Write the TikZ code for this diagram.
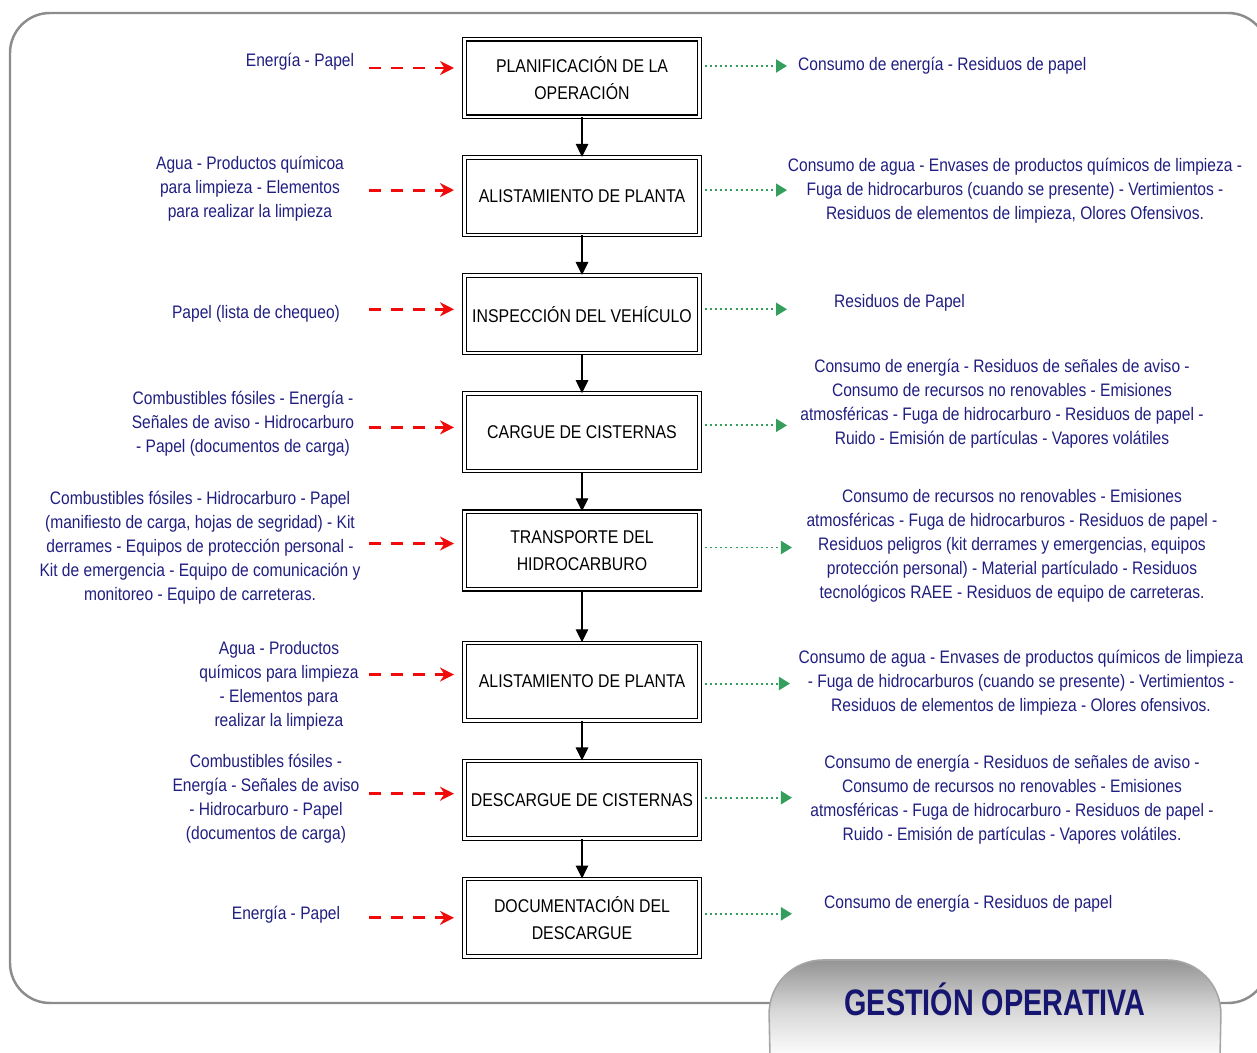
\documentclass[tikz,border=0pt]{standalone}
\usepackage{fontspec}
\setmainfont{Liberation Sans}[FakeStretch=0.86]
\newfontfamily\titlefont{Liberation Sans}[FakeStretch=0.78]
\usepackage{xcolor}
\usetikzlibrary{arrows.meta, positioning}

\definecolor{txtblue}{RGB}{32,30,128}
\definecolor{titleblue}{RGB}{22,22,112}
\definecolor{inred}{RGB}{240,10,10}
\definecolor{outgreen}{RGB}{52,158,92}
\definecolor{framegray}{RGB}{140,140,140}

\begin{document}
\begin{tikzpicture}[
    x=0.02cm, y=-0.02cm,
    node distance=0.792cm,
    stepbox/.style={draw, double, double distance=1.4pt, line width=0.6pt, minimum width=4.7cm, minimum height=1.55cm, align=center, font=\fontsize{10.5}{15.4}\selectfont},
    intext/.style={text=txtblue, align=center, font=\fontsize{10.3}{13.7}\selectfont},
    outtext/.style={text=txtblue, align=center, font=\fontsize{10.3}{13.7}\selectfont},
    flow/.style={-{Triangle[length=2.6mm, width=2.5mm]}, line width=0.8pt},
    inarr/.style={inred, line width=1.7pt, dash pattern=on 6.8pt off 5.8pt, -{Stealth[length=2.8mm, width=2.8mm]}},
    outarr/.style={outgreen, line width=1.1pt, dash pattern=on 1.1pt off 1.8pt, -{Triangle[length=2.2mm, width=2.6mm]}},
    frame/.style={framegray, line width=1.4pt, rounded corners=0.8cm},
    pill/.style={draw=black!35, line width=0.9pt, rounded corners=1.1cm, top color=black!42, bottom color=white, middle color=black!16}
]
    \useasboundingbox (0,0) rectangle (1257,1053);
    \clip (0,0) rectangle (1257,1053);

    % frame and title
    \draw[frame] (10,13) rectangle (1268,1003);
    \path[pill] (770,1058) -- (768,960) -- (1222,960) -- (1220,1058);
    \node[text=titleblue, font=\titlefont\bfseries\fontsize{21}{24}\selectfont] (title) at (995,999) {GESTIÓN OPERATIVA};

    % process steps
    \node[stepbox] (plan) at (582,78) {PLANIFICACIÓN DE LA\\OPERACIÓN};
    \node[stepbox, below=of plan] (alist) {ALISTAMIENTO DE PLANTA};
    \node[stepbox, below=of alist] (insp) {INSPECCIÓN DEL VEHÍCULO};
    \node[stepbox, below=of insp] (cargue) {CARGUE DE CISTERNAS};
    \node[stepbox, below=of cargue] (transp) {TRANSPORTE DEL\\HIDROCARBURO};
    \node[stepbox, below=1.05cm of transp] (alistb) {ALISTAMIENTO DE PLANTA};
    \node[stepbox, below=of alistb] (descargue) {DESCARGUE DE CISTERNAS};
    \node[stepbox, below=of descargue] (docu) {DOCUMENTACIÓN DEL\\DESCARGUE};

    \draw[flow] (plan) -- (alist);
    \draw[flow] (alist) -- (insp);
    \draw[flow] (insp) -- (cargue);
    \draw[flow] (cargue) -- (transp);
    \draw[flow] (transp) -- (alistb);
    \draw[flow] (alistb) -- (descargue);
    \draw[flow] (descargue) -- (docu);

    % inputs
    \node[intext] (inplan) at (300,62) {Energía - Papel};
    \node[intext] (inalist) at (250,189) {Agua - Productos químicoa\\para limpieza - Elementos\\para realizar la limpieza};
    \node[intext] (ininsp) at (256,314) {Papel (lista de chequeo)};
    \node[intext] (incargue) at (243,424) {Combustibles fósiles - Energía -\\Señales de aviso - Hidrocarburo\\- Papel (documentos de carga)};
    \node[intext] (intransp) at (200,548) {Combustibles fósiles - Hidrocarburo - Papel\\(manifiesto de carga, hojas de segridad) - Kit\\derrames - Equipos de protección personal -\\Kit de emergencia - Equipo de comunicación y\\monitoreo - Equipo de carreteras.};
    \node[intext] (inalistb) at (279,686) {Agua - Productos\\químicos para limpieza\\- Elementos para\\realizar la limpieza};
    \node[intext] (indescargue) at (266,799) {Combustibles fósiles -\\Energía - Señales de aviso\\- Hidrocarburo - Papel\\(documentos de carga)};
    \node[intext] (indocu) at (286,915) {Energía - Papel};

    \draw[inarr] ([xshift=-1.9cm, yshift=0.2cm]plan.west) -- ([xshift=-0.2cm, yshift=0.2cm]plan.west);
    \draw[inarr] ([xshift=-1.9cm, yshift=0.12cm]alist.west) -- ([xshift=-0.2cm, yshift=0.12cm]alist.west);
    \draw[inarr] ([xshift=-1.9cm, yshift=0.1cm]insp.west) -- ([xshift=-0.2cm, yshift=0.1cm]insp.west);
    \draw[inarr] ([xshift=-1.9cm, yshift=0.1cm]cargue.west) -- ([xshift=-0.2cm, yshift=0.1cm]cargue.west);
    \draw[inarr] ([xshift=-1.9cm, yshift=0.14cm]transp.west) -- ([xshift=-0.2cm, yshift=0.14cm]transp.west);
    \draw[inarr] ([xshift=-1.9cm, yshift=0.14cm]alistb.west) -- ([xshift=-0.2cm, yshift=0.14cm]alistb.west);
    \draw[inarr] ([xshift=-1.9cm, yshift=0.12cm]descargue.west) -- ([xshift=-0.2cm, yshift=0.12cm]descargue.west);
    \draw[inarr] ([xshift=-1.9cm]docu.west) -- ([xshift=-0.2cm]docu.west);

    % outputs
    \node[outtext, anchor=west] (outplan) at (792,66) {Consumo de energía - Residuos de papel};
    \node[outtext] (outalist) at (1015,191) {Consumo de agua - Envases de productos químicos de limpieza -\\Fuga de hidrocarburos (cuando se presente) - Vertimientos -\\Residuos de elementos de limpieza, Olores Ofensivos.};
    \node[outtext, anchor=west] (outinsp) at (828,303) {Residuos de Papel};
    \node[outtext] (outcargue) at (1002,404) {Consumo de energía - Residuos de señales de aviso -\\Consumo de recursos no renovables - Emisiones\\atmosféricas - Fuga de hidrocarburo - Residuos de papel -\\Ruido - Emisión de partículas - Vapores volátiles};
    \node[outtext] (outtransp) at (1012,546) {Consumo de recursos no renovables - Emisiones\\atmosféricas - Fuga de hidrocarburos - Residuos de papel -\\Residuos peligros (kit derrames y emergencias, equipos\\protección personal) - Material partículado - Residuos\\tecnológicos RAEE - Residuos de equipo de carreteras.};
    \node[outtext] (outalistb) at (1021,683) {Consumo de agua - Envases de productos químicos de limpieza\\- Fuga de hidrocarburos (cuando se presente) - Vertimientos -\\Residuos de elementos de limpieza - Olores ofensivos.};
    \node[outtext] (outdescargue) at (1012,800) {Consumo de energía - Residuos de señales de aviso -\\Consumo de recursos no renovables - Emisiones\\atmosféricas - Fuga de hidrocarburo - Residuos de papel -\\Ruido - Emisión de partículas - Vapores volátiles.};
    \node[outtext, anchor=west] (outdocu) at (818,904) {Consumo de energía - Residuos de papel};

    \draw[outarr] ([xshift=0.1cm, yshift=0.24cm]plan.east) -- ([xshift=1.74cm, yshift=0.24cm]plan.east);
    \draw[outarr] ([xshift=0.1cm, yshift=0.12cm]alist.east) -- ([xshift=1.74cm, yshift=0.12cm]alist.east);
    \draw[outarr] ([xshift=0.1cm, yshift=0.1cm]insp.east) -- ([xshift=1.74cm, yshift=0.1cm]insp.east);
    \draw[outarr] ([xshift=0.1cm, yshift=0.14cm]cargue.east) -- ([xshift=1.74cm, yshift=0.14cm]cargue.east);
    \draw[outarr] ([xshift=0.1cm, yshift=0.06cm]transp.east) -- ([xshift=1.84cm, yshift=0.06cm]transp.east);
    \draw[outarr] ([xshift=0.1cm, yshift=-0.04cm]alistb.east) -- ([xshift=1.8cm, yshift=-0.04cm]alistb.east);
    \draw[outarr] ([xshift=0.1cm, yshift=0.04cm]descargue.east) -- ([xshift=1.84cm, yshift=0.04cm]descargue.east);
    \draw[outarr] ([xshift=0.1cm, yshift=0.08cm]docu.east) -- ([xshift=1.84cm, yshift=0.08cm]docu.east);
\end{tikzpicture}
\end{document}
